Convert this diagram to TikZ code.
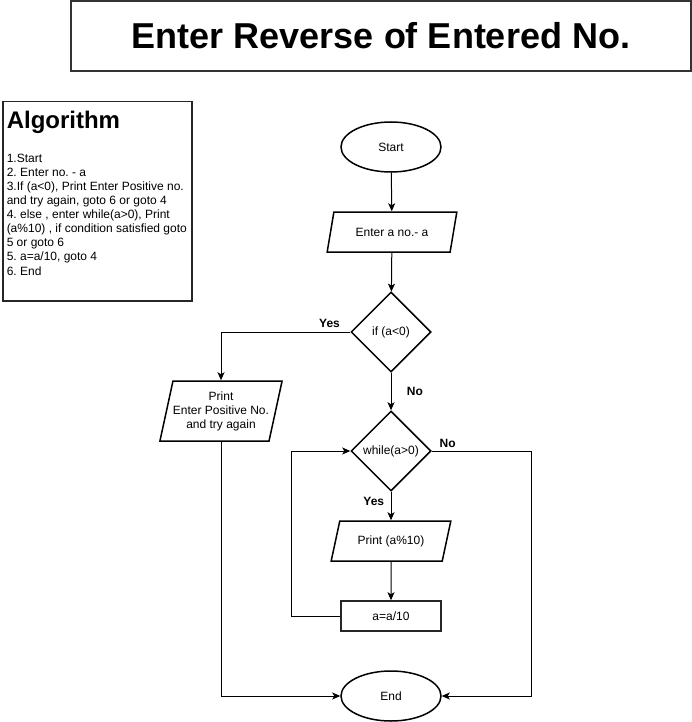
\documentclass[tikz,border=0pt]{standalone}
\usepackage{fontspec}
\setmainfont{Liberation Sans}
\usepackage{tikz}
\usetikzlibrary{shapes}
\usetikzlibrary{arrows,arrows.meta}
\usetikzlibrary{positioning}
\frenchspacing
\tikzstyle{titlebox}=[rectangle,draw=black!80,line width=1.5pt,
minimum width=620pt,minimum height=70pt,inner sep=0pt,
font=\fontsize{36}{40}\selectfont\bfseries]
\tikzstyle{algobox}=[rectangle,draw=black!85,line width=1.5pt,inner sep=4pt]
\tikzstyle{debutfin}=[ellipse,draw,line width=1.5pt,text=black,inner sep=0pt,
minimum width=100pt,minimum height=50pt]
\tikzstyle{input}=[
        draw,
        line width=1.5pt,
        trapezium,
        trapezium stretches=true,
        trapezium left angle=63.43,
        trapezium right angle=116.57,
        minimum width=130pt,
        minimum height=40pt,
        inner sep=0pt,
        align=center
]
\tikzstyle{instruct}=[rectangle,draw=black!85,line width=1.5pt,inner sep=0pt,
minimum width=100pt,minimum height=30pt]
\tikzstyle{test}=[diamond,aspect=1,line width=1.5pt,inner sep=0pt,
draw=black,text=black,minimum width=80pt,minimum height=80pt]
\tikzstyle{suite}=[->,>={Stealth[length=8pt,width=7pt,inset=2pt]},line width=1pt]
\tikzstyle{rep}=[font=\fontsize{12}{14}\selectfont\bfseries]

\begin{document}
\begin{tikzpicture}[x=1pt,y=-1pt,font=\fontsize{12}{14}\selectfont]
\useasboundingbox (0,0) rectangle (692,722);
\node[titlebox] (titre) at (381,36) {Enter Reverse of Entered No.};
\node[algobox,anchor=north west] (algo) at (2,101) {%
\begin{minipage}[t][191pt][t]{181pt}
\frenchspacing
\vspace{5pt}
{\fontsize{24}{28}\selectfont\bfseries Algorithm}\par\vspace{20pt}
\fontsize{12}{14.1}\selectfont
1.Start\\
2. Enter no. - a\\
3.If (a<0), Print Enter Positive no.\\
and try again, goto 6 or goto 4\\
4. else , enter while(a>0), Print\\
(a\%10) , if condition satisfied goto\\
5 or goto 6\\
5. a=a/10, goto 4\\
6. End
\end{minipage}};
\node[debutfin] (a) at (391,147) {Start};
\node[input] (b) at (392,232) {Enter a no.- a};
\node[test] (test) at (391,332) {if (a<0)};
\node[input,minimum width=120pt,minimum height=60pt,
trapezium left angle=71.57,trapezium right angle=108.43] (c) at (221,411)
{Print\\Enter Positive No.\\and try again};
\node[test] (test2) at (391,451) {while(a>0)};
\node[input,minimum width=120pt] (d) at (391,541) {Print (a\%10)};
\node[instruct] (e) at (391,616) {a=a/10};
\node[debutfin] (f) at (391,696) {End};
%Drawing Edges
\draw[suite] (a) -- (b);
\draw[suite] (b) -- (test);
\draw[suite] (test) -- (test2) node[midway,right,rep,xshift=12pt]{No};
\draw[suite] (test.west) -| (c.north) node[pos=0.08,above,rep,yshift=1pt]{Yes};
\draw[suite] (c.south) |- (f.west);
\draw[suite] (test2) -- (d) node[near start,left,rep,xshift=-3pt,yshift=-3pt]{Yes};
\draw[suite] (test2.east) -| (531,696) node[pos=0.08,above,rep]{No} -- (f.east);
\draw[suite] (d) -- (e);
\draw[suite] (e.west) -- (291,616) |- (test2.west);
\end{tikzpicture}
\end{document}
